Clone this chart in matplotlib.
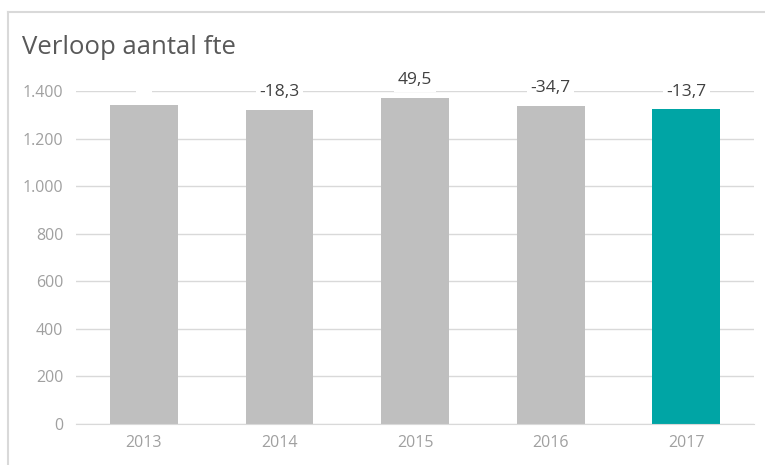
import matplotlib
matplotlib.use("Agg")
import matplotlib.pyplot as plt
from matplotlib.lines import Line2D

years = ["2013", "2014", "2015", "2016", "2017"]
values = [1340.0, 1321.7, 1371.2, 1336.5, 1322.8]
labels = ["", "-18,3", "49,5", "-34,7", "-13,7"]
colors = ["#bfbfbf", "#bfbfbf", "#bfbfbf", "#bfbfbf", "#00a5a5"]
yticks = [0, 200, 400, 600, 800, 1000, 1200, 1400]
ytick_labels = ["0", "200", "400", "600", "800", "1.000", "1.200", "1.400"]
title = "Verloop aantal fte"

plt.rcParams["font.family"] = ["Open Sans", "DejaVu Sans"]

W, H = 765, 465
fig = plt.figure(figsize=(W / 100, H / 100), dpi=100)
ax = fig.add_axes([76 / W, 1 - 424 / H, (754 - 76) / W, (424 - 91) / H])

x = list(range(len(years)))
ax.bar(x, values, width=0.5, color=colors, zorder=2)
ax.set_xlim(-0.5, len(years) - 0.5)
ax.set_ylim(0, 1400)
ax.set_yticks(yticks)
ax.set_yticklabels(ytick_labels)
ax.set_xticks(x)
ax.set_xticklabels(years)
ax.yaxis.grid(True, color="#d9d9d9", linewidth=1, zorder=0)
ax.set_axisbelow(True)
for s in ["top", "right", "left"]:
    ax.spines[s].set_visible(False)
ax.spines["bottom"].set_color("#d9d9d9")
ax.tick_params(axis="both", length=0, colors="#a6a6a6", labelsize=11.5)
ax.tick_params(axis="y", pad=9)
ax.tick_params(axis="x", pad=8)
for t in ax.get_xticklabels() + ax.get_yticklabels():
    t.set_color("#a0a0a0")

for xi, v, lab in zip(x, values, labels):
    txt = lab if lab else "  "
    ax.annotate(txt, (xi, v), xytext=(0, 7), textcoords="offset points",
                ha="center", va="bottom", fontsize=12.5, color="#404040",
                bbox=dict(boxstyle="square,pad=0.2", fc="white", ec="none"),
                annotation_clip=False, zorder=3)

fig.text(22 / W, 1 - 47 / H, title, fontsize=18.5, color="#595959",
         ha="left", va="center")

fig.add_artist(Line2D([8 / W, 1], [1 - 12 / H, 1 - 12 / H], color="#d9d9d9", linewidth=1.5))
fig.add_artist(Line2D([8 / W, 8 / W], [0, 1 - 12 / H], color="#d9d9d9", linewidth=1.5))

fig.savefig("out.png", dpi=100)
